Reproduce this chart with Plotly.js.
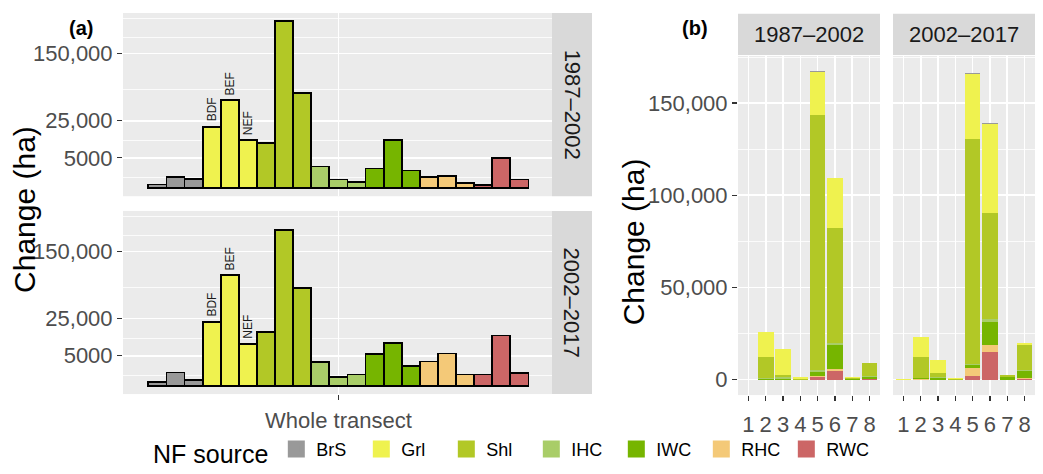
<!DOCTYPE html>
<html><head><meta charset="utf-8">
<script src="https://cdn.plot.ly/plotly-3.0.1.min.js"></script>
<style>html,body{margin:0;padding:0;background:#fff}#chart{width:1043px;height:474px}</style>
</head><body><div id="chart"></div>
<script>
// ---------- data ----------
const sources = ['BrS', 'Grl', 'Shl', 'IHC', 'IWC', 'RHC', 'RWC'];
const sourceColors = ['#999999', '#EFF24F', '#B2C826', '#A9CD68', '#76B500', '#F4C978', '#CC6666'];
const forestTypes = ['BDF', 'BEF', 'NEF'];
const periods = ['1987–2002', '2002–2017'];

// (a) whole transect, change (ha) by NF source (BrS..RWC) x forest type (BDF, BEF, NEF)
const whole1987 = [60, 620, 440, 20800, 42600, 12500, 11150, 153800, 49800, 2530, 384, 180, 2090, 12500, 1690, 620, 835, 140, 52, 4960, 384];
const whole2002 = [80, 970, 205, 22600, 67650, 9740, 15800, 134800, 52600, 3110, 420, 700, 5520, 10060, 2240, 3270, 5730, 700, 700, 13950, 930];
const wholeTickLabel = ['Whole transect'];
const aTickVals = [5000, 25000, 100000];
const aTickText = ['5000', '25,000', '150,000'];
const aMinorVals = [600, 12300, 54000, 125700, 158800];

// (b) transect segments 1..8, change (ha) stacked by NF source (rows follow `sources`)
const segments = [1, 2, 3, 4, 5, 6, 7, 8];
const segLabels = ['1', '2', '3', '4', '5', '6', '7', '8'];
const seg1987 = [
  [0, 0, 0, 0, 400, 300, 0, 0],                 // BrS
  [0, 14000, 14500, 1000, 23500, 26700, 200, 100], // Grl
  [0, 11400, 1000, 300, 138300, 62800, 600, 7200], // Shl
  [0, 300, 800, 0, 800, 1200, 0, 500],           // IHC
  [0, 300, 500, 0, 2500, 12900, 500, 1000],      // IWC
  [0, 0, 0, 0, 500, 700, 0, 100],                // RHC
  [0, 0, 0, 0, 1200, 4900, 0, 100]               // RWC
];
const seg2002 = [
  [200, 0, 0, 0, 500, 500, 0, 0],
  [100, 10600, 7000, 500, 35400, 48300, 0, 1100],
  [0, 11800, 2100, 200, 121900, 57900, 1300, 13600],
  [0, 0, 700, 0, 500, 1700, 0, 700],
  [0, 300, 800, 0, 1800, 12100, 1200, 3600],
  [0, 300, 0, 0, 4400, 4200, 0, 700],
  [0, 0, 0, 0, 1800, 14700, 0, 300]
];
const bTickVals = [0, 50000, 100000, 150000];
const bTickText = ['0', '50,000', '100,000', '150,000'];

// ---------- build ----------
const W = 1043, H = 474;
const px = p => p / W;
const py = p => 1 - p / H;
const FONT = 'Liberation Sans, Arial, sans-serif';

const traces = [];
const aX = whole1987.map((_, i) => i + 1);
const aColors = whole1987.map((_, i) => sourceColors[Math.floor(i / 3)]);
const aNames = whole1987.map((_, i) => sources[Math.floor(i / 3)] + ' ' + forestTypes[i % 3]);
[[whole1987, 'x', 'y'], [whole2002, 'x2', 'y2']].forEach(([vals, xa, ya]) => {
  traces.push({
    type: 'bar', x: aX, y: vals.map(Math.sqrt), width: 1, xaxis: xa, yaxis: ya,
    marker: { color: aColors, line: { color: '#000000', width: 1.8 } },
    showlegend: false, text: aNames, textposition: 'none', hoverinfo: 'text'
  });
});

[[seg1987, 'x3', 'y3'], [seg2002, 'x4', 'y4']].forEach(([rows, xa, ya]) => {
  for (let k = sources.length - 1; k >= 0; k--) {
    traces.push({
      type: 'bar', x: segments, y: rows[k], width: 0.9, xaxis: xa, yaxis: ya,
      name: sources[k], marker: { color: sourceColors[k], line: { width: 0 } },
      showlegend: false
    });
  }
});
// legend entries
sources.forEach((s, k) => {
  traces.push({
    type: 'bar', x: [null], y: [null], xaxis: 'x3', yaxis: 'y3', name: s,
    marker: { color: sourceColors[k], line: { color: sourceColors[k], width: 5 } },
    showlegend: true
  });
});

const grid = { showgrid: true, gridcolor: '#FFFFFF', gridwidth: 1.6, zeroline: false, showline: false };
const tickStyle = { ticks: 'outside', ticklen: 5, tickwidth: 1.2, tickcolor: '#333333', tickfont: { size: 22, color: '#4D4D4D', family: FONT } };

const aYaxis = (dom) => Object.assign({}, grid, tickStyle, {
  domain: dom, range: [-19.6, 411.6], tickmode: 'array',
  tickvals: aTickVals.map(Math.sqrt), ticktext: aTickText,
  minor: { tickmode: 'array', tickvals: aMinorVals.map(Math.sqrt), showgrid: true, gridcolor: '#FFFFFF', gridwidth: 0.8, ticks: '' }
});

const layout = {
  width: W, height: H, margin: { l: 0, r: 0, t: 0, b: 0 },
  paper_bgcolor: '#FFFFFF', plot_bgcolor: '#EBEBEB',
  font: { family: FONT, color: '#000000', size: 18 },
  barmode: 'stack', bargap: 0,
  showlegend: true,
  legend: {
    orientation: 'h', x: px(151), xanchor: 'left', y: py(461), yanchor: 'middle',
    title: { text: 'NF source', font: { size: 25, color: '#000000' }, side: 'left' },
    font: { size: 18, color: '#000000' }, entrywidth: 40, traceorder: 'normal',
    bgcolor: 'rgba(0,0,0,0)'
  },
  xaxis: Object.assign({}, grid, { domain: [px(123), px(552)], anchor: 'y', range: [-0.9, 22.8], tickmode: 'array', tickvals: [11], showticklabels: false, ticks: '' }),
  yaxis: Object.assign(aYaxis([py(200), py(13.3)]), { anchor: 'x' }),
  xaxis2: Object.assign({}, grid, tickStyle, { domain: [px(123), px(552)], anchor: 'y2', range: [-0.9, 22.8], tickmode: 'array', tickvals: [11], ticktext: wholeTickLabel, ticklabelstandoff: 2 }),
  yaxis2: Object.assign(aYaxis([py(401.7), py(215)]), { anchor: 'x2' }),
  xaxis3: Object.assign({}, grid, tickStyle, { domain: [px(738), px(880)], anchor: 'y3', range: [0.4, 8.6], tickmode: 'array', tickvals: segments, ticktext: segLabels, ticklabelstandoff: 5 }),
  yaxis3: Object.assign({}, grid, tickStyle, {
    domain: [py(402.7), py(57)], anchor: 'x3', range: [-8400, 175600], tickmode: 'array',
    tickvals: bTickVals, ticktext: bTickText,
    minor: { dtick: 25000, tick0: 0, showgrid: true, gridcolor: '#FFFFFF', gridwidth: 0.8, ticks: '' }
  }),
  xaxis4: Object.assign({}, grid, tickStyle, { domain: [px(893), px(1035)], anchor: 'y4', range: [0.4, 8.6], tickmode: 'array', tickvals: segments, ticktext: segLabels, ticklabelstandoff: 5 }),
  yaxis4: Object.assign({}, grid, {
    domain: [py(402.7), py(57)], anchor: 'x4', matches: 'y3', range: [-8400, 175600], tickmode: 'array',
    tickvals: bTickVals, showticklabels: false, ticks: '',
    minor: { dtick: 25000, tick0: 0, showgrid: true, gridcolor: '#FFFFFF', gridwidth: 0.8, ticks: '' }
  }),
  shapes: [],
  annotations: []
};

const stripFill = '#D9D9D9';
const stripFont = { size: 22, color: '#1A1A1A', family: FONT };
const center = { xanchor: 'center', yanchor: 'middle', showarrow: false };
// (a) strips on the right
[[13.3, 200], [215, 401.7]].forEach(([t, b], i) => {
  layout.shapes.push({ type: 'rect', xref: 'paper', yref: 'paper', x0: px(552), x1: px(592), y0: py(b), y1: py(t), fillcolor: stripFill, line: { width: 0 }, layer: 'below' });
  layout.annotations.push(Object.assign({ xref: 'paper', yref: 'paper', x: px(572), y: py((t + b) / 2), text: periods[i], textangle: 90, font: stripFont }, center));
});
// (b) strips on top
[[738, 880], [893, 1035]].forEach(([l, r], i) => {
  layout.shapes.push({ type: 'rect', xref: 'paper', yref: 'paper', x0: px(l), x1: px(r), y0: py(56), y1: py(14), fillcolor: stripFill, line: { width: 0 }, layer: 'below' });
  layout.annotations.push(Object.assign({ xref: 'paper', yref: 'paper', x: px((l + r) / 2), y: py(35), text: periods[i], font: stripFont }, center));
});
// panel tags
layout.annotations.push(Object.assign({ xref: 'paper', yref: 'paper', x: px(81), y: py(29), text: '<b>(a)</b>', font: { size: 20, color: '#000' } }, center));
layout.annotations.push(Object.assign({ xref: 'paper', yref: 'paper', x: px(695), y: py(29), text: '<b>(b)</b>', font: { size: 20, color: '#000' } }, center));
// axis titles
layout.annotations.push(Object.assign({ xref: 'paper', yref: 'paper', x: px(25), y: py(214), text: 'Change (ha)', textangle: -90, font: { size: 30, color: '#000' } }, center));
layout.annotations.push(Object.assign({ xref: 'paper', yref: 'paper', x: px(633), y: py(247), text: 'Change (ha)', textangle: -90, font: { size: 30, color: '#000' } }, center));
// forest type labels above the Grl bars
[[whole1987, 'x', 'y'], [whole2002, 'x2', 'y2']].forEach(([vals, xa, ya]) => {
  forestTypes.forEach((ft, j) => {
    const i = 3 + j;
    layout.annotations.push({ xref: xa, yref: ya, x: aX[i], y: Math.sqrt(vals[i]), text: ft, textangle: -90, showarrow: false, yanchor: 'bottom', xanchor: 'center', yshift: 3, font: { size: 12, color: '#1A1A1A' } });
  });
});

Plotly.newPlot('chart', traces, layout, { displayModeBar: false, staticPlot: true });
</script>
</body></html>
